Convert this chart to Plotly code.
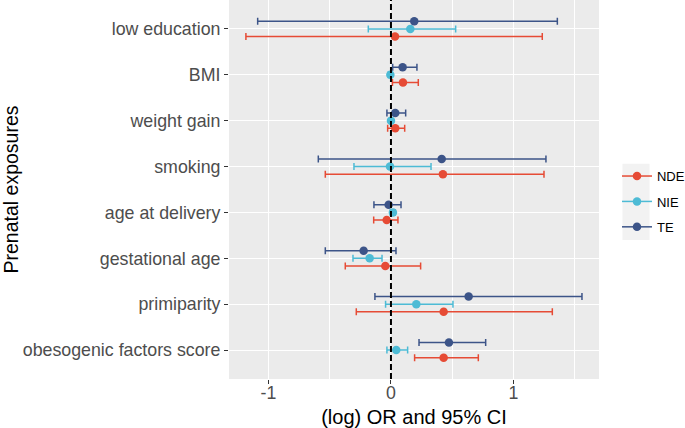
import plotly.graph_objects as go

categories = ["low education", "BMI", "weight gain", "smoking", "age at delivery",
              "gestational age", "primiparity", "obesogenic factors score"]

series_names = ["NDE", "NIE", "TE"]
colors = {"NDE": "#E64B35", "NIE": "#4DBBD5", "TE": "#3C5488"}

nde_est = [0.033, 0.098, 0.035, 0.424, -0.035, -0.046, 0.430, 0.430]
nde_lo  = [-1.184, 0.012, -0.027, -0.536, -0.141, -0.373, -0.283, 0.193]
nde_hi  = [1.235, 0.223, 0.112, 1.249, 0.057, 0.242, 1.317, 0.713]

nie_est = [0.158, -0.005, 0.000, -0.008, 0.016, -0.174, 0.207, 0.043]
nie_lo  = [-0.185, -0.022, -0.012, -0.302, -0.005, -0.310, -0.044, -0.033]
nie_hi  = [0.528, 0.010, 0.010, 0.327, 0.035, -0.073, 0.506, 0.136]

te_est = [0.190, 0.095, 0.035, 0.414, -0.019, -0.223, 0.634, 0.473]
te_lo  = [-1.088, 0.014, -0.033, -0.593, -0.139, -0.536, -0.131, 0.229]
te_hi  = [1.358, 0.212, 0.120, 1.265, 0.082, 0.041, 1.559, 0.773]

data = {
    "NDE": (nde_est, nde_lo, nde_hi),
    "NIE": (nie_est, nie_lo, nie_hi),
    "TE": (te_est, te_lo, te_hi),
}
dodge = {"NDE": -1/6, "NIE": 0.0, "TE": 1/6}

n = len(categories)
ypos = [n - i for i in range(n)]  # top category highest

fig = go.Figure()
for s in series_names:
    est, lo, hi = data[s]
    fig.add_trace(go.Scatter(
        x=est,
        y=[p + dodge[s] for p in ypos],
        mode="markers",
        name=s,
        legendgroup=s,
        marker=dict(color=colors[s], size=8.5),
        error_x=dict(type="data", symmetric=False,
                     array=[h - e for h, e in zip(hi, est)],
                     arrayminus=[e - l for e, l in zip(est, lo)],
                     color=colors[s], thickness=1.5, width=3.5),
        showlegend=False,
    ))
    # legend proxy (line + marker)
    fig.add_trace(go.Scatter(
        x=[None], y=[None], mode="lines+markers", name=s,
        legendgroup=s,
        marker=dict(color=colors[s], size=8.5),
        line=dict(color=colors[s], width=1.5),
    ))

fig.add_vline(x=0, line=dict(color="black", width=2, dash="6px,3px"))

fig.add_shape(type="rect", xref="paper", yref="paper",
              x0=1.0635, x1=1.1365, y0=0.367, y1=0.568,
              fillcolor="#F2F2F2", line=dict(width=0), layer="below")

fig.update_layout(
    width=685, height=428,
    margin=dict(l=229, r=86, t=0, b=49, autoexpand=False),
    paper_bgcolor="white",
    plot_bgcolor="#EBEBEB",
    font=dict(family="Liberation Sans, Arial, sans-serif", color="#4D4D4D"),
    legend=dict(x=1.0486, y=0.575, xanchor="left", yanchor="top",
                bgcolor="rgba(0,0,0,0)", font=dict(size=13, color="black"),
                itemwidth=30, traceorder="grouped", tracegroupgap=5.5),
    xaxis=dict(
        range=[-1.322, 1.698],
        tickvals=[-1, 0, 1], ticktext=["-1", "0", "1"],
        showgrid=True, gridcolor="white", gridwidth=1.4,
        minor=dict(tickvals=[-0.5, 0.5, 1.5], showgrid=True,
                   gridcolor="white", gridwidth=0.7, ticks=""),
        zeroline=False,
        ticks="outside", ticklen=4, tickcolor="#333333", tickwidth=1.2,
        ticklabelstandoff=-6,
        tickfont=dict(size=17.8, color="#4D4D4D"),
        title=dict(text="(log) OR and 95% CI", font=dict(size=20, color="black"), standoff=7),
    ),
    yaxis=dict(
        range=[0.37, 8.63],
        tickvals=ypos, ticktext=categories,
        showgrid=True, gridcolor="white", gridwidth=1.4,
        zeroline=False,
        ticks="outside", ticklen=4, tickcolor="#333333", tickwidth=1.2,
        tickfont=dict(size=17.8, color="#4D4D4D"),
        title=dict(text="Prenatal exposures", font=dict(size=19.5, color="black"), standoff=2),
    ),
)

fig.write_html("out.html", config={"displayModeBar": False},
               post_script="document.body.style.margin='0';")
